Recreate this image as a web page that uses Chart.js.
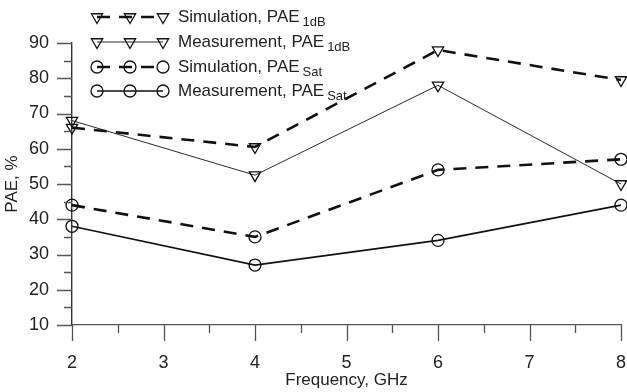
<!DOCTYPE html>
<html><head><meta charset="utf-8">
<script src="https://cdn.jsdelivr.net/npm/chart.js@4.4.1/dist/chart.umd.min.js"></script>
<style>html,body{margin:0;padding:0;background:#fff}#wrap{width:627px;height:392px}</style>
</head><body><div id="wrap"><canvas id="c" width="627" height="392"></canvas></div>
<script>
const freq = [2, 4, 6, 8];
const simPAE1dB  = [66, 60.5, 88, 79.5];
const measPAE1dB = [68, 52.5, 78, 50];
const simPAESat  = [44, 35, 54, 57];
const measPAESat = [38, 27, 34, 44];
const seriesNames = [
  ["Simulation, PAE", "1dB"],
  ["Measurement, PAE", "1dB"],
  ["Simulation, PAE", "Sat"],
  ["Measurement, PAE", "Sat"]
];
const xTicks = [2, 3, 4, 5, 6, 7, 8];
const yTicks = [10, 20, 30, 40, 50, 60, 70, 80, 90];

const FONT = "'Liberation Sans', Arial, sans-serif";
const AX = '#555';
const pts = arr => freq.map((f, i) => ({x: f, y: arr[i]}));

function ds(label, arr, style) {
  return Object.assign({
    label, data: pts(arr), borderColor: '#111', backgroundColor: 'rgba(0,0,0,0)',
    pointBackgroundColor: 'rgba(0,0,0,0)', pointBorderColor: '#111',
    tension: 0, clip: false, pointBorderWidth: 1.3
  }, style);
}

const datasets = [
  ds(seriesNames[0].join(''), simPAE1dB, {borderWidth: 2.6, borderDash: [13, 9], pointStyle: 'triangle', rotation: 180, pointRadius: 6.5}),
  ds(seriesNames[1].join(''), measPAE1dB, {borderWidth: 0.9, pointStyle: 'triangle', rotation: 180, pointRadius: 6.5}),
  ds(seriesNames[2].join(''), simPAESat, {borderWidth: 2.6, borderDash: [13, 9], pointStyle: 'circle', pointRadius: 6}),
  ds(seriesNames[3].join(''), measPAESat, {borderWidth: 1.6, pointStyle: 'circle', pointRadius: 6})
];

function drawMarker(ctx, d, x, y) {
  ctx.save();
  ctx.setLineDash([]);
  ctx.lineWidth = d.pointBorderWidth;
  ctx.strokeStyle = d.pointBorderColor;
  const r = d.pointRadius;
  ctx.beginPath();
  if (d.pointStyle === 'triangle') {
    ctx.moveTo(x - r * 0.866, y - r * 0.5);
    ctx.lineTo(x + r * 0.866, y - r * 0.5);
    ctx.lineTo(x, y + r);
    ctx.closePath();
  } else {
    ctx.arc(x, y, r, 0, Math.PI * 2);
  }
  ctx.stroke();
  ctx.restore();
}

const legendPlugin = {
  id: 'customLegend',
  afterDraw(chart) {
    const ctx = chart.ctx;
    const rowY = [17, 42, 67, 91];
    chart.data.datasets.forEach((d, i) => {
      const y = rowY[i];
      const x0 = 97, x1 = 163;
      ctx.save();
      ctx.strokeStyle = d.borderColor;
      ctx.lineWidth = d.borderWidth;
      ctx.setLineDash(d.borderDash || []);
      ctx.beginPath(); ctx.moveTo(x0, y); ctx.lineTo(x1, y); ctx.stroke();
      ctx.restore();
      [x0, 130, x1].forEach(mx => drawMarker(ctx, d, mx, y));
      ctx.save();
      ctx.fillStyle = '#222';
      ctx.textBaseline = 'middle';
      ctx.font = '17px ' + FONT;
      const [main, sub] = seriesNames[i];
      ctx.fillText(main, 178, y);
      const w = ctx.measureText(main).width;
      ctx.font = '13px ' + FONT;
      ctx.fillText(sub, 178 + w + 3, y + 5);
      ctx.restore();
    });
  }
};

const tickPlugin = {
  id: 'ticks',
  afterDraw(chart) {
    const ctx = chart.ctx, xs = chart.scales.x, ys = chart.scales.y, a = chart.chartArea;
    ctx.save();
    ctx.strokeStyle = AX; ctx.lineWidth = 1.3;
    ctx.beginPath();
    for (let v = xTicks[0]; v <= xTicks[xTicks.length - 1] + 1e-9; v += 0.5) {
      const px = Math.round(xs.getPixelForValue(v)) + 0.5;
      const len = Number.isInteger(v) ? 16 : 8;
      ctx.moveTo(px, a.bottom); ctx.lineTo(px, a.bottom + len);
    }
    for (let v = yTicks[0]; v <= yTicks[yTicks.length - 1] + 1e-9; v += 5) {
      const py = Math.round(ys.getPixelForValue(v)) + 0.5;
      const len = v % 10 === 0 ? 15 : 8;
      ctx.moveTo(a.left - len, py); ctx.lineTo(a.left, py);
    }
    ctx.stroke();
    ctx.restore();
  }
};

new Chart(document.getElementById('c'), {
  type: 'line',
  data: {datasets},
  options: {
    responsive: false, animation: false, devicePixelRatio: 1,
    layout: {autoPadding: false, padding: {left: 0, right: 6, top: 43, bottom: 0}},
    plugins: {legend: {display: false}, tooltip: {enabled: false}},
    scales: {
      x: {
        type: 'linear', min: 2, max: 8,
        afterFit(s) { s.height = 67; s.paddingRight = 0; s.paddingLeft = 0; },
        grid: {display: false, drawTicks: false},
        border: {display: true, color: AX, width: 1.3},
        ticks: {stepSize: 1, padding: 27, color: '#222', font: {family: FONT, size: 18}},
        title: {display: true, text: 'Frequency, GHz', color: '#222', font: {family: FONT, size: 17}, padding: {top: 0, bottom: 1}}
      },
      y: {
        type: 'linear', min: 10, max: 90,
        afterFit(s) { s.width = 72; },
        grid: {display: false, drawTicks: false},
        border: {display: true, color: '#333', width: 1.4},
        ticks: {stepSize: 10, padding: 23, color: '#222', font: {family: FONT, size: 18}},
        title: {display: true, text: 'PAE, %', color: '#222', font: {family: FONT, size: 17}, padding: {top: 2, bottom: 0}}
      }
    }
  },
  plugins: [tickPlugin, legendPlugin]
});
</script></body></html>
